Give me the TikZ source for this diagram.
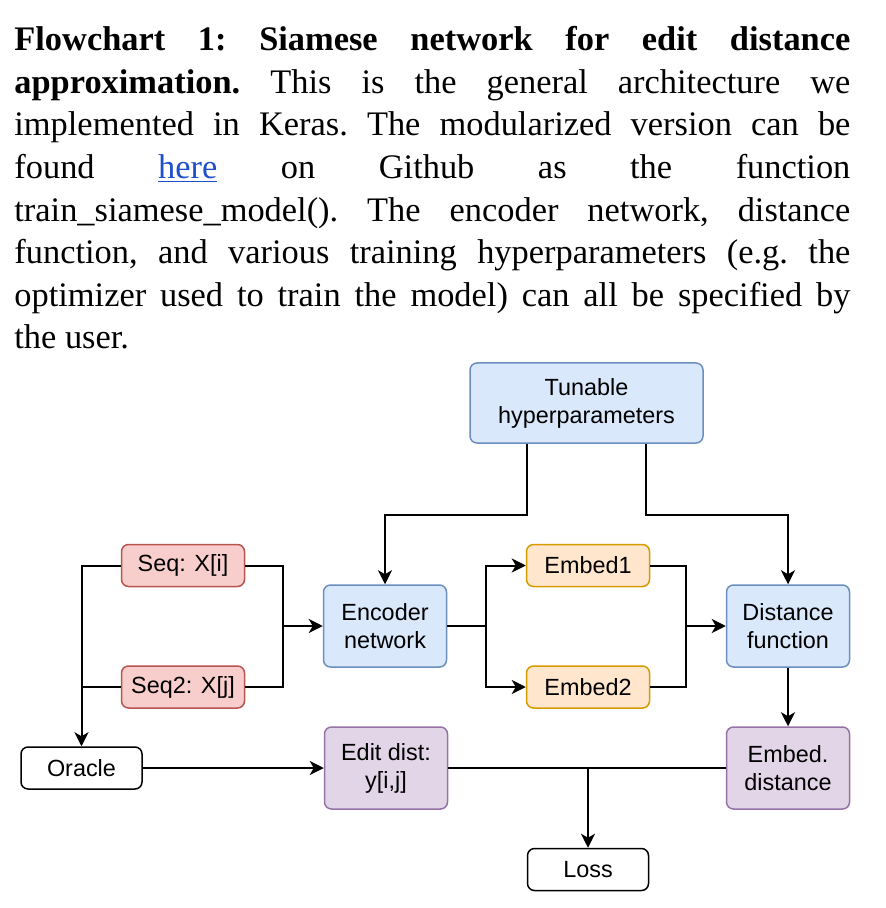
\documentclass[tikz,border=0pt]{standalone}
\usepackage{fontspec}
\setmainfont{Liberation Serif}
\setsansfont{Liberation Sans}
\usepackage{xcolor}
\usetikzlibrary{arrows.meta}
\usetikzlibrary{positioning}
\definecolor{bluefill}{HTML}{DAE8FC}
\definecolor{bluedraw}{HTML}{6C8EBF}
\definecolor{redfill}{HTML}{F8CECC}
\definecolor{reddraw}{HTML}{B85450}
\definecolor{orangefill}{HTML}{FFE6CC}
\definecolor{orangedraw}{HTML}{D79B00}
\definecolor{purplefill}{HTML}{E1D5E7}
\definecolor{purpledraw}{HTML}{9673A6}
\definecolor{linkblue}{HTML}{1F4FCC}
\tikzset{
    box/.style={draw, rounded corners=3.5pt, line width=0.75pt, align=center, inner sep=0pt,
        font=\sffamily\fontsize{11.7}{14}\selectfont},
    bigbox/.style={box, minimum width=61.5pt, minimum height=41pt},
    smallbox/.style={box, minimum width=61.5pt, minimum height=21pt},
    bluebox/.style={bigbox, draw=bluedraw, fill=bluefill},
    purplebox/.style={bigbox, draw=purpledraw, fill=purplefill},
    redbox/.style={smallbox, draw=reddraw, fill=redfill},
    orangebox/.style={smallbox, draw=orangedraw, fill=orangefill},
    plainbox/.style={smallbox, draw=black, fill=white, minimum width=60.5pt},
    flow/.style={draw=black, line width=1pt, -{Stealth[length=7pt,width=7pt,inset=2pt]}},
    link/.style={draw=black, line width=1pt},
}

\begin{document}
\begin{tikzpicture}[x=0.5pt, y=-0.5pt]
    \useasboundingbox (0,0) rectangle (886,908);
    \node[anchor=north west, text width=418pt, inner sep=0pt, align=justify,
        font=\rmfamily\fontsize{17.2}{21.3}\selectfont] (caption) at (14,26)
        {\frenchspacing\textbf{Flowchart 1: Siamese network for edit distance}\linebreak
        \textbf{approximation.} This is the general architecture we\linebreak
        implemented in Keras. The modularized version can be\linebreak
        found \textcolor{linkblue}{\underline{here}} on Github as the function\linebreak
        train\_siamese\_model(). The encoder network, distance\linebreak
        function, and various training hyperparameters (e.g. the\linebreak
        optimizer used to train the model) can all be specified by\linebreak
        the user.};

    \node[bluebox, minimum width=116.5pt, minimum height=40pt] (hyper) at (586.5,403) {Tunable\\hyperparameters};
    \node[redbox] (seqi) at (183,565.5) {Seq: X[i]};
    \node[redbox] (seqj) at (183,687) {Seq2: X[j]};
    \node[bluebox] (encoder) at (385,626) {Encoder\\network};
    \node[orangebox] (embedone) at (588,565.5) {Embed1};
    \node[orangebox] (embedtwo) at (588,687) {Embed2};
    \node[bluebox] (distfn) at (788,626) {Distance\\function};
    \node[plainbox] (oracle) at (81.5,768) {Oracle};
    \node[purplebox] (editdist) at (386,768) {Edit dist:\\y[i,j]};
    \node[purplebox] (embdist) at (788,768) {Embed.\\distance};
    \node[plainbox] (loss) at (588,869.5) {Loss};

    \draw[flow] ([xshift=29pt]hyper.south west) -- ++(0,71) -| (encoder.north);
    \draw[flow] ([xshift=-29pt]hyper.south east) -- ++(0,71) -| (distfn.north);
    \draw[flow] (seqi.west) -| (oracle.north);
    \draw[link] (seqj.west) -- (seqj.west -| oracle.north);
    \draw[flow] (seqi.east) -| ([xshift=-20pt]encoder.west) -- (encoder.west);
    \draw[link] (seqj.east) -| ([xshift=-20pt]encoder.west);
    \draw[flow] (encoder.east) -| ([xshift=-20pt]embedone.west) -- (embedone.west);
    \draw[flow] (encoder.east) -| ([xshift=-20pt]embedtwo.west) -- (embedtwo.west);
    \draw[flow] (embedone.east) -| ([xshift=-20pt]distfn.west) -- (distfn.west);
    \draw[link] (embedtwo.east) -| ([xshift=-20pt]distfn.west);
    \draw[flow] (distfn) -- (embdist);
    \draw[flow] (oracle) -- (editdist);
    \draw[link] (editdist) -- (embdist);
    \draw[flow] (editdist.east -| loss.north) -- (loss.north);
\end{tikzpicture}
\end{document}
